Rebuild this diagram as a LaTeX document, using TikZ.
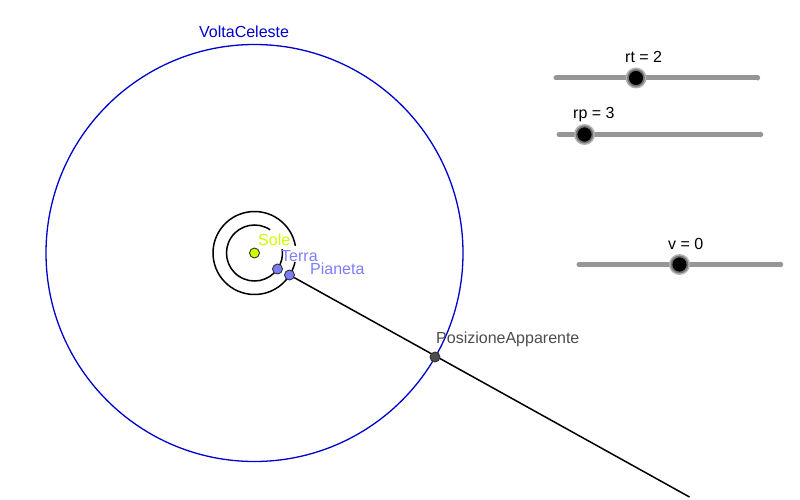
\documentclass[tikz,border=0pt]{standalone}
\usetikzlibrary{arrows.meta}
\usepackage{fontspec}
\setmainfont{Liberation Sans}
\definecolor{sunc}{RGB}{204,255,0}
\definecolor{planc}{RGB}{125,125,255}
\definecolor{appc}{RGB}{77,77,77}
\definecolor{slc}{RGB}{150,150,150}
\definecolor{bluec}{RGB}{0,0,204}
\tikzset{
  px/.style={x=1pt,y=-1pt},
  orbit/.style={draw=black,line width=1.5pt},
  pt/.style={circle,draw=black!80,line width=0.9pt,inner sep=0pt,minimum size=10pt},
  lbl/.style={inner sep=0pt,anchor=base west,font=\fontsize{16}{18}\selectfont},
  track/.style={draw=slc,line width=5pt,line cap=round,-{Triangle[length=2.5pt,width=6.5pt]}},
  halo/.style={circle,fill=slc!75,inner sep=0pt,minimum size=21pt},
  knob/.style={circle,fill=black,draw=black!55,line width=1.6pt,inner sep=0pt,minimum size=16pt},
}
\begin{document}
\begin{tikzpicture}[px]
\useasboundingbox (0,0) rectangle (800,500);
\coordinate (sun) at (254.5,253);
\draw[draw=bluec,line width=1.3pt] (sun) circle[radius=208.5pt];
\draw[orbit] (sun) ++(56:28pt) arc[start angle=56,end angle=368,radius=28pt];
\draw[orbit] (sun) ++(10:41.5pt) arc[start angle=10,end angle=347.5,radius=41.5pt];
\coordinate (lineend) at (689.5,497);
\node[pt,fill=planc] (pianeta) at (289.5,275) {};
\draw[black,line width=1.5pt] (pianeta) -- (lineend);
\node[pt,fill=sunc] (sole) at (sun) {};
\node[pt,fill=planc] (terra) at (277.5,269) {};
\node[pt,fill=appc] (app) at (435,357) {};
\node[lbl,text=bluec] (lv) at (199,38) {VoltaCeleste};
\node[lbl,text=sunc] (ls) at (258,245.5) {Sole};
\node[lbl,text=planc] (lt) at (281,261) {Terra};
\node[lbl,text=planc] (lp) at (310,274) {Pianeta};
\node[lbl,text=appc] (la) at (436,343) {PosizioneApparente};
\coordinate (a1) at (556,78); \coordinate (a2) at (760,78);
\draw[track] (a1) -- (a2);
\node[halo] (h1) at (636,78) {};
\node[knob] (k1) at (636,78) {};
\node[lbl] (t1) at (625,63) {rt = 2};
\coordinate (b1) at (559,134.5); \coordinate (b2) at (763,134.5);
\draw[track] (b1) -- (b2);
\node[halo] (h2) at (584.5,134.5) {};
\node[knob] (k2) at (584.5,134.5) {};
\node[lbl] (t2) at (573,119) {rp = 3};
\coordinate (c1) at (579,264.5); \coordinate (c2) at (783,264.5);
\draw[track] (c1) -- (c2);
\node[halo] (h3) at (679.5,264.5) {};
\node[knob] (k3) at (679.5,264.5) {};
\node[lbl] (t3) at (668,249) {v = 0};
\end{tikzpicture}
\end{document}
